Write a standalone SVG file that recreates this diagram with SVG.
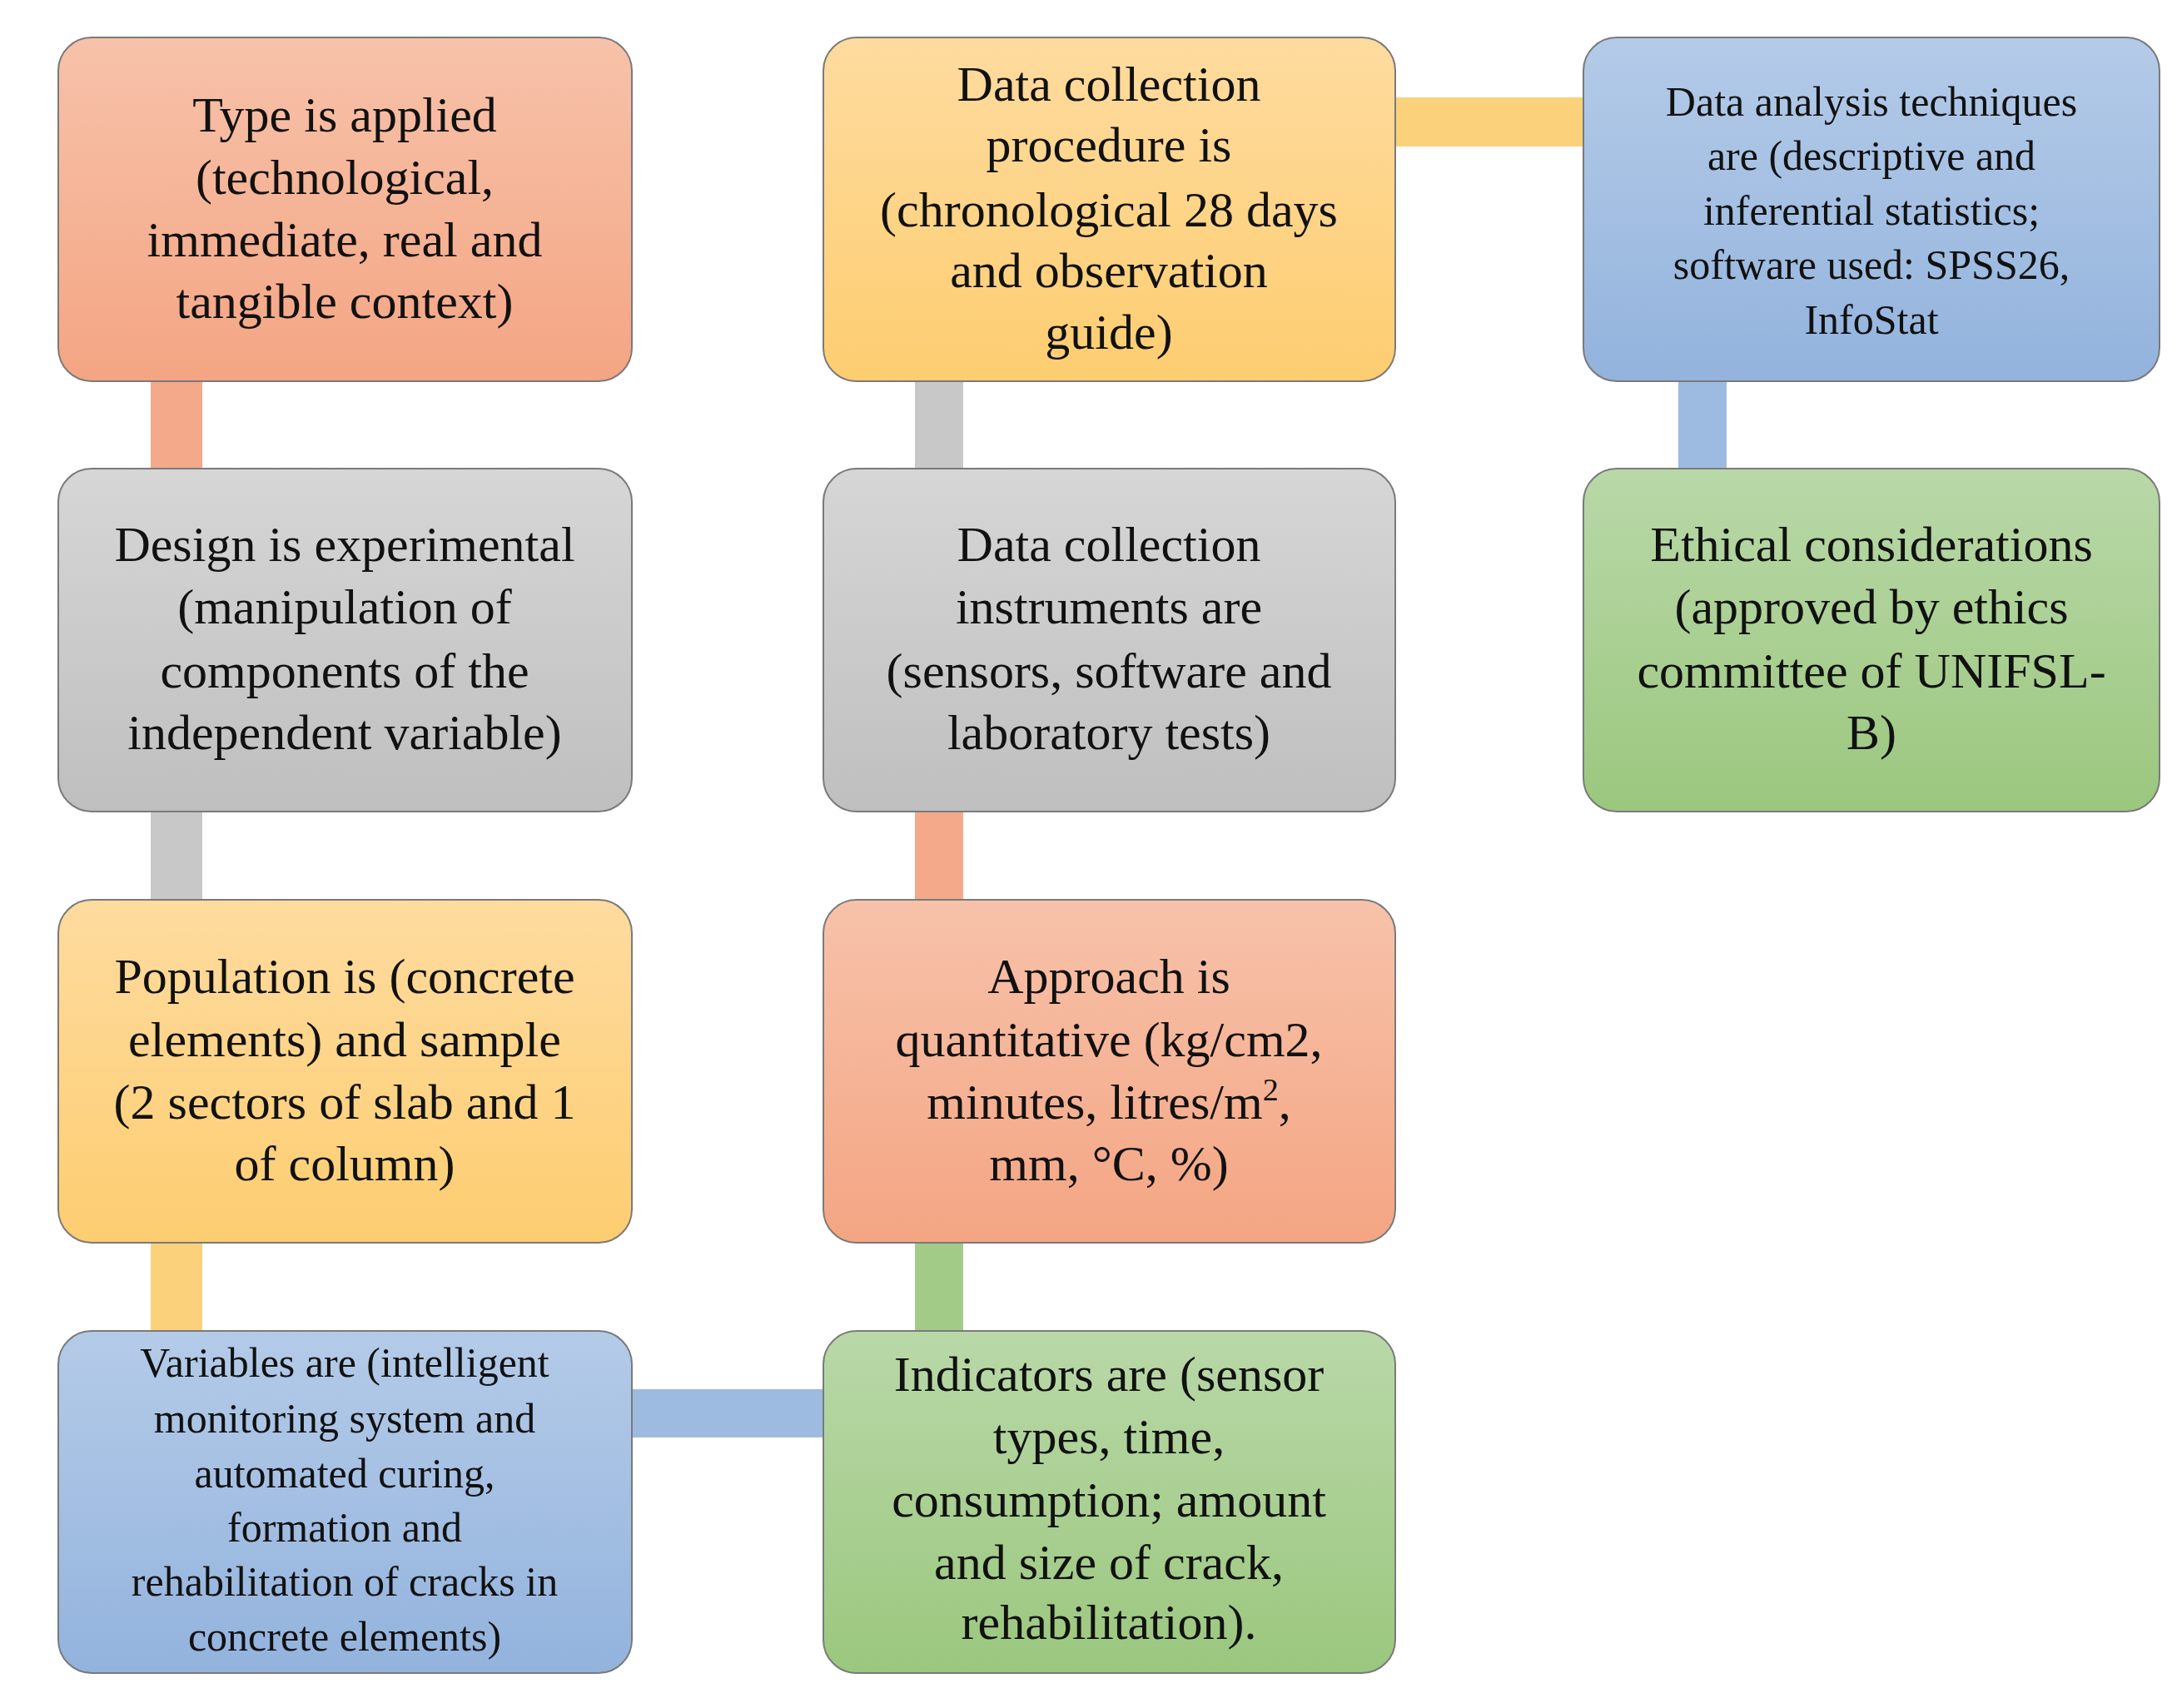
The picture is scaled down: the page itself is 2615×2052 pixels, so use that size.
<svg xmlns="http://www.w3.org/2000/svg" width="2615" height="2052" viewBox="0 0 2615 2052">
<defs>
<linearGradient id="gO" x1="0" y1="0" x2="0" y2="1"><stop offset="0" stop-color="#f7c2aa"/><stop offset="1" stop-color="#f4a583"/></linearGradient>
<linearGradient id="gG" x1="0" y1="0" x2="0" y2="1"><stop offset="0" stop-color="#d6d6d6"/><stop offset="1" stop-color="#bfbfbf"/></linearGradient>
<linearGradient id="gY" x1="0" y1="0" x2="0" y2="1"><stop offset="0" stop-color="#fedb9f"/><stop offset="1" stop-color="#fdcd70"/></linearGradient>
<linearGradient id="gB" x1="0" y1="0" x2="0" y2="1"><stop offset="0" stop-color="#b4cbe8"/><stop offset="1" stop-color="#93b3dd"/></linearGradient>
<linearGradient id="gN" x1="0" y1="0" x2="0" y2="1"><stop offset="0" stop-color="#b9d8a8"/><stop offset="1" stop-color="#9bc77e"/></linearGradient>
</defs>
<style>
.box{stroke:#7a7a7a;stroke-width:2}
text{font-family:"Liberation Serif","DejaVu Serif",serif;font-size:60px;fill:#111;text-anchor:middle}
.s{font-size:50px}
</style>
<rect width="2615" height="2052" fill="#fff"/>
<g id="connectors">
<rect x="181" y="455" width="62" height="112" fill="#f4a98a"/>
<rect x="181" y="972" width="62" height="112" fill="#c8c8c8"/>
<rect x="181" y="1490" width="62" height="112" fill="#fcd17c"/>
<rect x="1099" y="455" width="58" height="112" fill="#c8c8c8"/>
<rect x="1099" y="972" width="58" height="112" fill="#f4a98a"/>
<rect x="1099" y="1490" width="58" height="112" fill="#a3cb88"/>
<rect x="2016" y="455" width="58" height="112" fill="#9dbbe1"/>
<rect x="1673" y="117" width="232" height="59" fill="#fcd17c"/>
<rect x="756" y="1669" width="236" height="58" fill="#9dbbe1"/>
</g>
<g id="n1"><rect class="box" x="70" y="45" width="689" height="413" rx="40" fill="url(#gO)"/>
<text x="414" y="158">Type is applied</text><text x="414" y="233">(technological,</text><text x="414" y="308">immediate, real and</text><text x="414" y="382">tangible context)</text></g>
<g id="n2"><rect class="box" x="70" y="563" width="689" height="412" rx="40" fill="url(#gG)"/>
<text x="414" y="674">Design is experimental</text><text x="414" y="749">(manipulation of</text><text x="414" y="826">components of the</text><text x="414" y="900">independent variable)</text></g>
<g id="n3"><rect class="box" x="70" y="1081" width="689" height="412" rx="40" fill="url(#gY)"/>
<text x="414" y="1193">Population is (concrete</text><text x="414" y="1269">elements) and sample</text><text x="414" y="1344">(2 sectors of slab and 1</text><text x="414" y="1418">of column)</text></g>
<g id="n4"><rect class="box" x="70" y="1599" width="689" height="411" rx="40" fill="url(#gB)"/>
<text class="s" x="414" y="1654">Variables are (intelligent</text><text class="s" x="414" y="1721">monitoring system and</text><text class="s" x="414" y="1787">automated curing,</text><text class="s" x="414" y="1852">formation and</text><text class="s" x="414" y="1917">rehabilitation of cracks in</text><text class="s" x="414" y="1983">concrete elements)</text></g>
<g id="n5"><rect class="box" x="989" y="45" width="687" height="413" rx="40" fill="url(#gY)"/>
<text x="1332" y="121">Data collection</text><text x="1332" y="194">procedure is</text><text x="1332" y="272">(chronological 28 days</text><text x="1332" y="345">and observation</text><text x="1332" y="419">guide)</text></g>
<g id="n6"><rect class="box" x="989" y="563" width="687" height="412" rx="40" fill="url(#gG)"/>
<text x="1332" y="674">Data collection</text><text x="1332" y="749">instruments are</text><text x="1332" y="826">(sensors, software and</text><text x="1332" y="900">laboratory tests)</text></g>
<g id="n7"><rect class="box" x="989" y="1081" width="687" height="412" rx="40" fill="url(#gO)"/>
<text x="1332" y="1193">Approach is</text><text x="1332" y="1269">quantitative (kg/cm2,</text><text x="1332" y="1344">minutes, litres/m<tspan font-size="38" dy="-22">2</tspan><tspan dy="22">,</tspan></text><text x="1332" y="1418">mm, °C, %)</text></g>
<g id="n8"><rect class="box" x="989" y="1599" width="687" height="411" rx="40" fill="url(#gN)"/>
<text x="1332" y="1671">Indicators are (sensor</text><text x="1332" y="1746">types, time,</text><text x="1332" y="1822">consumption; amount</text><text x="1332" y="1897">and size of crack,</text><text x="1332" y="1969">rehabilitation).</text></g>
<g id="n9"><rect class="box" x="1902" y="45" width="692" height="413" rx="40" fill="url(#gB)"/>
<text class="s" x="2248" y="139">Data analysis  techniques</text><text class="s" x="2248" y="204">are (descriptive and</text><text class="s" x="2248" y="270">inferential statistics;</text><text class="s" x="2248" y="335">software used: SPSS26,</text><text class="s" x="2248" y="401">InfoStat</text></g>
<g id="n10"><rect class="box" x="1902" y="563" width="692" height="412" rx="40" fill="url(#gN)"/>
<text x="2248" y="674">Ethical considerations</text><text x="2248" y="749">(approved by ethics</text><text x="2248" y="826">committee of UNIFSL-</text><text x="2248" y="900">B)</text></g>
</svg>
